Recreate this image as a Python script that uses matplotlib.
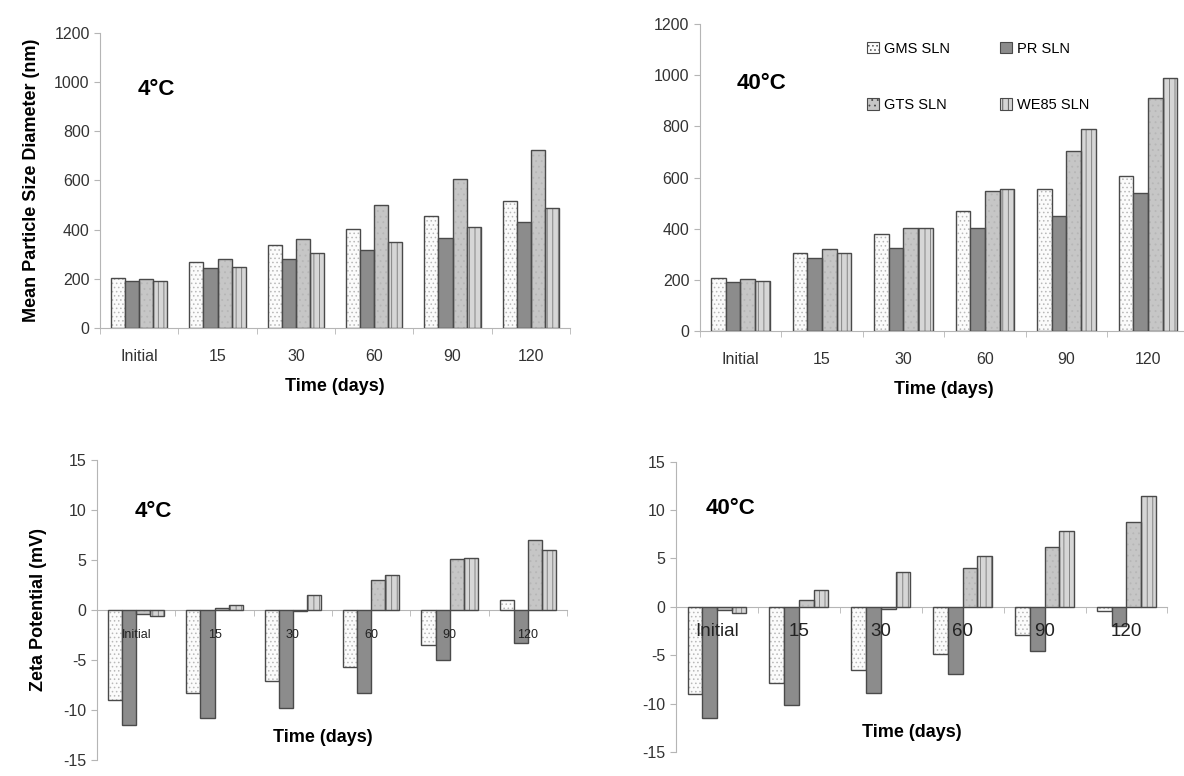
import matplotlib.pyplot as plt
import numpy as np
from matplotlib.patches import Patch

plt.rcParams.update(
    {
        "font.family": ["Liberation Sans", "DejaVu Sans"],
        "font.size": 10,
        "hatch.linewidth": 0.6,
        "axes.unicode_minus": False,
    }
)

days = ["Initial", "15", "30", "60", "90", "120"]
series = ["GMS SLN", "PR SLN", "GTS SLN", "WE85 SLN"]

# mean particle size (nm)
size_4 = [
    [203, 268, 336, 401, 455, 515],
    [190, 243, 280, 316, 365, 430],
    [199, 280, 361, 499, 605, 725],
    [190, 247, 304, 349, 410, 490],
]
size_40 = [
    [207, 305, 380, 470, 555, 605],
    [192, 285, 325, 405, 450, 540],
    [203, 320, 405, 550, 705, 910],
    [195, 305, 405, 555, 790, 990],
]
# zeta potential (mV)
zeta_4 = [
    [-9.0, -8.3, -7.1, -5.7, -3.5, 1.0],
    [-11.5, -10.8, -9.8, -8.3, -5.0, -3.3],
    [-0.4, 0.2, -0.1, 3.0, 5.1, 7.0],
    [-0.6, 0.5, 1.5, 3.5, 5.2, 6.0],
]
zeta_40 = [
    [-9.0, -7.9, -6.5, -4.9, -2.9, -0.4],
    [-11.5, -10.1, -8.9, -6.9, -4.6, -2.0],
    [-0.3, 0.7, -0.2, 4.0, 6.2, 8.8],
    [-0.6, 1.7, 3.6, 5.3, 7.8, 11.5],
]

faces = ["#fbfbfb", "#8c8c8c", "#c6c6c6", "#d6d6d6"]
hatches = ["....", None, "...", "|||"]
hatch_cols = ["#b8b8b8", None, "#b6b6b6", "#777777"]
edge = "#4a4a4a"
axis_col = "#b5b5b5"
tick_col = "#333333"

fig = plt.figure(figsize=(11.84, 7.76), dpi=100)
ax_tl = fig.add_axes([0.0845, 0.577, 0.397, 0.381])
ax_tr = fig.add_axes([0.591, 0.573, 0.413, 0.396])
ax_bl = fig.add_axes([0.082, 0.0206, 0.397, 0.387])
ax_br = fig.add_axes([0.571, 0.031, 0.415, 0.374])

x = np.arange(len(days))
w = 0.18


def draw_bars(ax, data):
    for i, vals in enumerate(data):
        pos = x + (i - 1.5) * w
        if hatches[i]:
            ax.bar(pos, vals, w, color=faces[i], hatch=hatches[i],
                   edgecolor=hatch_cols[i], linewidth=0, zorder=2)
            ax.bar(pos, vals, w, fill=False, edgecolor=edge,
                   linewidth=1.0, zorder=3)
        else:
            ax.bar(pos, vals, w, color=faces[i], edgecolor=edge,
                   linewidth=1.0, zorder=3)


def style(ax):
    ax.set_xlim(-0.5, len(days) - 0.5)
    for s in ["top", "right"]:
        ax.spines[s].set_visible(False)
    ax.spines["left"].set_color(axis_col)
    ax.spines["bottom"].set_color(axis_col)
    ax.tick_params(axis="y", colors=axis_col, labelcolor=tick_col,
                   labelsize=11.5, length=4)
    ax.set_xticks(np.arange(len(days) + 1) - 0.5, minor=True)
    ax.tick_params(axis="x", which="minor", colors=axis_col, length=4)
    ax.tick_params(axis="x", which="major", length=0)


# top panels: particle size
for ax, data, lab, pos in [(ax_tl, size_4, "4°C", (0.08, 0.79)),
                           (ax_tr, size_40, "40°C", (0.075, 0.79))]:
    draw_bars(ax, data)
    style(ax)
    ax.set_ylim(0, 1200)
    ax.set_yticks(range(0, 1201, 200))
    ax.set_xticks(x)
    ax.set_xticklabels(days, fontsize=11.5, color=tick_col)
    ax.tick_params(axis="x", which="major", pad=15)
    ax.set_xlabel("Time (days)", fontsize=13, fontweight="bold", labelpad=10)
    ax.text(pos[0], pos[1], lab, transform=ax.transAxes, fontsize=16,
            fontweight="bold")

proxies = [Patch(facecolor=faces[i], edgecolor=edge, hatch=hatches[i],
                 linewidth=0.8) for i in range(4)]
ax_tr.legend([proxies[0], proxies[2], proxies[1], proxies[3]],
             [series[0], series[2], series[1], series[3]],
             ncol=2, loc="upper left", bbox_to_anchor=(0.315, 0.985),
             frameon=False, handlelength=0.8, handleheight=0.8,
             handletextpad=0.4, labelspacing=2.9, columnspacing=3.4,
             fontsize=10.5)

ax_tl.set_ylabel("Mean Particle Size Diameter (nm)", fontsize=13,
                 fontweight="bold", labelpad=10)

# bottom panels: zeta potential
for ax, data, lab, fs, pos, tpos in [
        (ax_bl, zeta_4, "4°C", 9, (0.08, 0.81), 0.06),
        (ax_br, zeta_40, "40°C", 13.5, (0.06, 0.82), 0.05)]:
    draw_bars(ax, data)
    style(ax)
    ax.set_ylim(-15, 15)
    ax.set_yticks(range(-15, 16, 5))
    ax.spines["bottom"].set_position(("data", 0))
    ax.set_xticks([])
    ax.set_xticks(np.arange(len(days) + 1) - 0.5, minor=True)
    for i, d in enumerate(days):
        ax.text(i, -2.5, d, ha="center", va="center", fontsize=fs,
                color="#222222", zorder=5)
    ax.text(0.48, tpos, "Time (days)", transform=ax.transAxes, ha="center",
            fontsize=13, fontweight="bold")
    ax.text(pos[0], pos[1], lab, transform=ax.transAxes, fontsize=16,
            fontweight="bold")

ax_bl.set_ylabel("Zeta Potential (mV)", fontsize=13, fontweight="bold",
                 labelpad=12)

plt.savefig("out.png", dpi=100)
plt.close(fig)
